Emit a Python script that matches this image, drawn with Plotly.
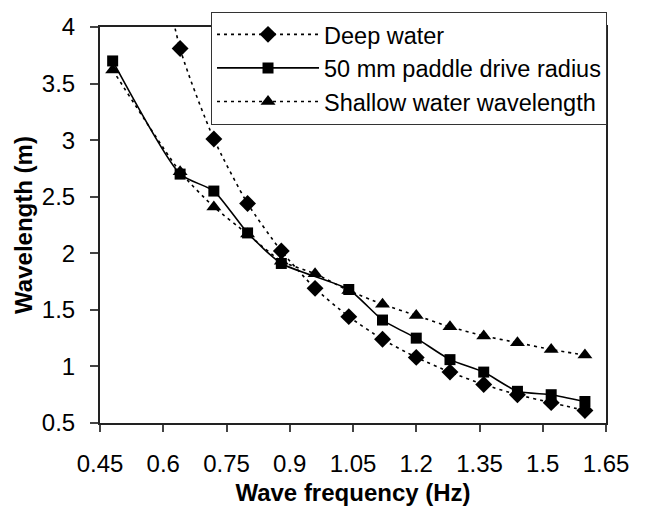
import plotly.graph_objects as go

freq = [0.48, 0.64, 0.72, 0.80, 0.88, 0.96, 1.04, 1.12, 1.20, 1.28, 1.36, 1.44, 1.52, 1.60]
deep_water = [6.78, 3.81, 3.01, 2.44, 2.02, 1.69, 1.44, 1.24, 1.08, 0.95, 0.84, 0.75, 0.68, 0.61]
shallow_water = [3.62, 2.72, 2.41, 2.17, 1.93, 1.82, 1.67, 1.55, 1.45, 1.35, 1.27, 1.21, 1.15, 1.10]
freq_paddle = [0.48, 0.64, 0.72, 0.80, 0.88, 1.04, 1.12, 1.20, 1.28, 1.36, 1.44, 1.52, 1.60]
paddle_50mm = [3.70, 2.70, 2.55, 2.18, 1.91, 1.68, 1.41, 1.25, 1.06, 0.95, 0.78, 0.75, 0.69]

x_ticks = [0.45, 0.6, 0.75, 0.9, 1.05, 1.2, 1.35, 1.5, 1.65]
x_ticklabels = ["0.45", "0.6", "0.75", "0.9", "1.05", "1.2", "1.35", "1.5", "1.65"]
y_ticks = [0.5, 1, 1.5, 2, 2.5, 3, 3.5, 4]
y_ticklabels = ["0.5", "1", "1.5", "2", "2.5", "3", "3.5", "4"]

FONT = "Liberation Sans, Arial, sans-serif"
SMOOTH = 0.6

fig = go.Figure()
fig.add_trace(go.Scatter(
    x=freq, y=deep_water, name="Deep water", legendrank=1,
    mode="lines+markers",
    line=dict(color="black", width=1.6, dash="3px,4px", shape="spline", smoothing=SMOOTH),
    marker=dict(symbol="diamond", size=13, color="black"),
))
fig.add_trace(go.Scatter(
    x=freq, y=shallow_water, name="Shallow water wavelength", legendrank=3,
    mode="lines+markers",
    line=dict(color="black", width=1.6, dash="3px,4px", shape="spline", smoothing=SMOOTH),
    marker=dict(symbol="triangle-up", size=13, color="black"),
))
fig.add_trace(go.Scatter(
    x=freq_paddle, y=paddle_50mm, name="50 mm paddle drive radius", legendrank=2,
    mode="lines+markers",
    line=dict(color="black", width=1.6, shape="spline", smoothing=SMOOTH),
    marker=dict(symbol="square", size=11, color="black"),
))

fig.update_layout(
    width=645, height=514,
    margin=dict(l=100, r=39, t=25, b=82),
    paper_bgcolor="white", plot_bgcolor="white",
    font=dict(family=FONT, size=23, color="black"),
    showlegend=True,
    legend=dict(
        x=0.2194, y=1.039, xanchor="left", yanchor="top",
        bgcolor="white", bordercolor="#333", borderwidth=1,
        font=dict(family=FONT, size=23.5, color="black"),
        itemwidth=102, tracegroupgap=0,
        entrywidth=300, entrywidthmode="pixels",
    ),
    xaxis=dict(
        range=[0.45, 1.65], tickmode="array", tickvals=x_ticks, ticktext=x_ticklabels,
        showgrid=False, zeroline=False, showline=True, linecolor="#222", linewidth=2,
        mirror=True, ticks="outside", ticklen=7, tickwidth=1.5, tickcolor="#444",
        tickfont=dict(family=FONT, size=24), ticklabelstandoff=11,
        title=dict(text="<b>Wave frequency (Hz)</b>", font=dict(family=FONT, size=24), standoff=8),
    ),
    yaxis=dict(
        range=[0.5, 4], tickmode="array", tickvals=y_ticks, ticktext=y_ticklabels,
        showgrid=False, zeroline=False, showline=True, linecolor="#222", linewidth=2,
        mirror=True, ticks="outside", ticklen=8, tickwidth=1.5, tickcolor="#444",
        tickfont=dict(family=FONT, size=24), ticklabelstandoff=10,
        title=dict(text="<b>Wavelength (m)</b>", font=dict(family=FONT, size=24), standoff=2),
    ),
)

fig.write_html("out.html")
